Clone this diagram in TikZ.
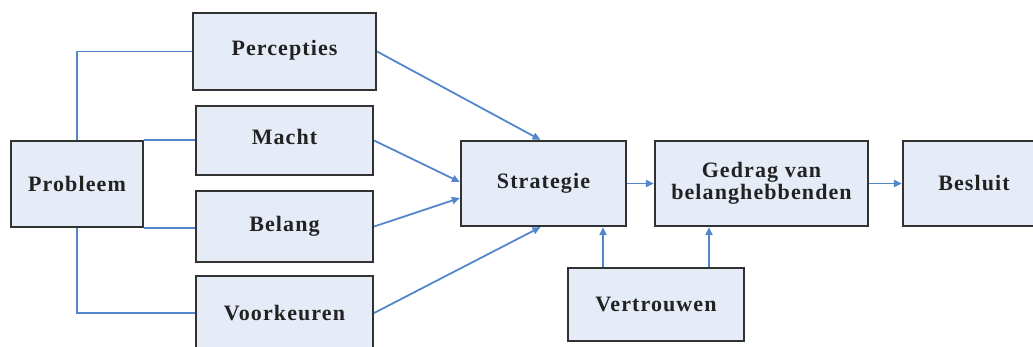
\documentclass[tikz,border=0pt]{standalone}
\usepackage{fontspec}
\setmainfont{Liberation Serif}[LetterSpace=5]
\usetikzlibrary{arrows.meta}
\definecolor{boxfill}{RGB}{230,236,247}
\definecolor{boxline}{RGB}{50,50,50}
\definecolor{linkblue}{RGB}{84,134,204}
\definecolor{textgray}{RGB}{34,34,34}
\tikzset{
  box/.style={draw=boxline, line width=2.2pt, fill=boxfill, rectangle,
    inner sep=0pt, align=center, text=textgray,
    font=\fontsize{22}{22}\selectfont\bfseries},
  link/.style={draw=linkblue, line width=1.8pt},
  arrow/.style={link, -{Triangle[length=8pt,width=7pt]}},
}
\begin{document}
\begin{tikzpicture}[x=1pt,y=-1pt]
\useasboundingbox (0,0) rectangle (1033,347);
\clip (0,0) rectangle (1033,347);

% factor boxes
\node[box, minimum width=132pt, minimum height=86pt] (prob) at (77,184) {Probleem};
\node[box, minimum width=183pt, minimum height=77pt] (perc) at (284.5,51.5) {\raisebox{8pt}{Percepties}};
\node[box, minimum width=177pt, minimum height=69pt] (macht) at (284.5,140.5) {\raisebox{8pt}{Macht}};
\node[box, minimum width=177pt, minimum height=71pt] (belang) at (284.5,226.5) {Belang};
\node[box, minimum width=177pt, minimum height=74pt] (voork) at (284.5,313) {Voorkeuren};

% process chain
\node[box, minimum width=165pt, minimum height=85pt] (strat) at (543.5,183.5) {Strategie};
\node[box, minimum width=213pt, minimum height=85pt] (gedrag) at (761.5,183.5) {Gedrag van\\belanghebbenden};
\node[box, minimum width=142pt, minimum height=85pt] (besluit) at (974,183.5) {Besluit};
\node[box, minimum width=176pt, minimum height=73pt] (vertr) at (656,304.5) {Vertrouwen};

% problem to the four factors
\draw[link] (prob.north) |- (perc.west);
\draw[link] (prob.north east) -- (macht.west |- prob.north east);
\draw[link] (prob.south east) -- (belang.west |- prob.south east);
\draw[link] (prob.south) |- (voork.west);

% factors into the strategy
\draw[arrow] (perc.east) -- ([xshift=-3pt]strat.north);
\draw[arrow] (macht.east) -- ([yshift=1.5pt]strat.west);
\draw[arrow] (belang.east) -- ([yshift=-14.5pt]strat.west);
\draw[arrow] (voork.east) -- ([xshift=-3pt]strat.south);

% chain and trust
\draw[arrow] (strat.east) -- (gedrag.west);
\draw[arrow] (gedrag.east) -- (besluit.west);
\draw[arrow] ([xshift=-53pt]vertr.north) -- ([xshift=-53pt]vertr.north |- strat.south);
\draw[arrow] ([xshift=53pt]vertr.north) -- ([xshift=53pt]vertr.north |- gedrag.south);
\end{tikzpicture}
\end{document}
